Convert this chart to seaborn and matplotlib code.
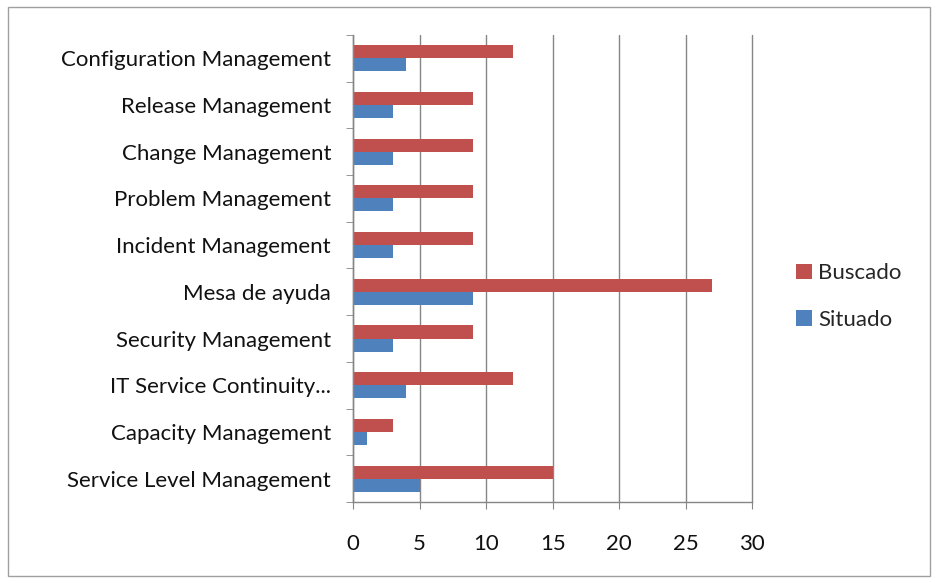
import matplotlib
matplotlib.use("Agg")
import matplotlib.pyplot as plt
import pandas as pd
import seaborn as sns
from matplotlib.patches import Rectangle

categories = ["Configuration Management", "Release Management", "Change Management",
              "Problem Management", "Incident Management", "Mesa de ayuda",
              "Security Management", "IT Service Continuity...", "Capacity Management",
              "Service Level Management"]
buscado = [12, 9, 9, 9, 9, 27, 9, 12, 3, 15]
situado = [4, 3, 3, 3, 3, 9, 3, 4, 1, 5]
x_ticks = [0, 5, 10, 15, 20, 25, 30]

df = pd.DataFrame({"cat": categories * 2,
                   "val": buscado + situado,
                   "serie": ["Buscado"] * len(buscado) + ["Situado"] * len(situado)})

sns.set_style("white")
plt.rcParams["font.family"] = ["Lato", "DejaVu Sans"]

fig = plt.figure(figsize=(9.37, 5.83), dpi=100)
ax = fig.add_axes([0.377, 0.139, 0.4256, 0.801])

sns.barplot(data=df, y="cat", x="val", hue="serie", order=categories,
            hue_order=["Buscado", "Situado"], palette={"Buscado": "#C0504D", "Situado": "#4F81BD"},
            width=0.56, orient="h", saturation=1, ax=ax, legend=True,
            edgecolor="none", linewidth=0)

ax.set_xlim(0, 30)
ax.set_ylim(9.5, -0.5)
ax.set_xticks(x_ticks)
ax.set_xlabel("")
ax.set_ylabel("")
ax.grid(axis="x", color="#868686", linewidth=1)
for gl in ax.get_xgridlines():
    gl.set_clip_on(False)
ax.set_axisbelow(True)
for s in ["top", "right"]:
    ax.spines[s].set_visible(False)
for s in ["left", "bottom"]:
    ax.spines[s].set_color("#868686")
    ax.spines[s].set_linewidth(1)

ax.tick_params(axis="x", length=5, color="#868686", pad=18, labelsize=16, direction="out",
               bottom=True, labelcolor="#111111")
ax.tick_params(axis="y", which="major", length=0, pad=16, labelsize=16, labelcolor="#111111")
ax.set_yticks([i + 0.5 for i in range(-1, len(categories))], minor=True)
ax.tick_params(axis="y", which="minor", length=5, color="#868686", left=True)

ax.legend(loc="center left", bbox_to_anchor=(1.06, 0.44), frameon=False, fontsize=16,
          handlelength=0.7, handleheight=0.7, labelspacing=1.2, handletextpad=0.3)

fig.patches.append(Rectangle((0.009, 0.012), 0.983, 0.976, transform=fig.transFigure,
                             fill=False, edgecolor="#a0a0a0", linewidth=1))

fig.savefig("out.png", dpi=100)
